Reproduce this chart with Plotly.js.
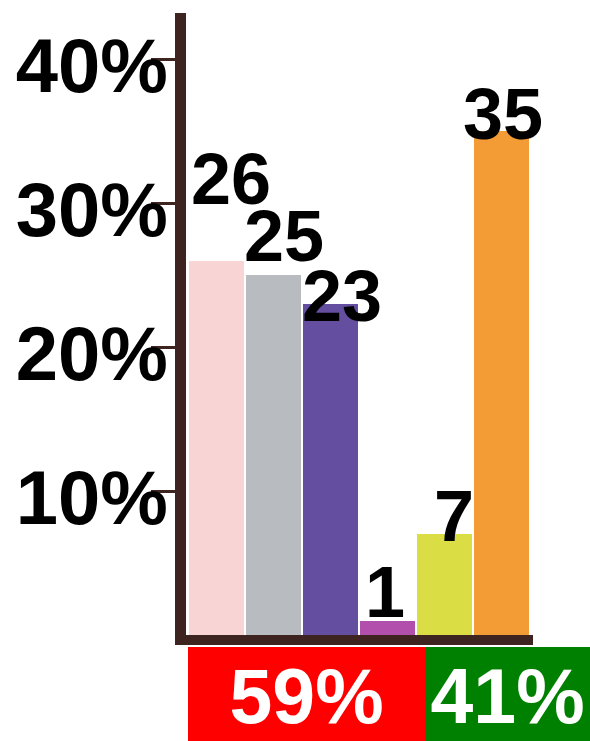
<!DOCTYPE html>
<html>
<head>
<meta charset="utf-8">
<script src="https://cdn.plot.ly/plotly-3.0.1.min.js"></script>
<style>
  html, body { margin: 0; padding: 0; background: #ffffff; }
  #chart { width: 590px; height: 741px; }
</style>
</head>
<body>
<div id="chart"></div>
<script>
// ---- data ----
const categories = ['A', 'B', 'C', 'D', 'E', 'F'];
const values = [26, 25, 23, 1, 7, 35];
const valueLabels = ['26', '25', '23', '1', '7', '35'];
const barColors = ['#f8d4d4', '#b8bbbf', '#634ea0', '#b24fac', '#dade44', '#f39b35'];
const tickValues = [10, 20, 30, 40];
const tickLabels = ['10%', '20%', '30%', '40%'];
const groupNames = ['59%', '41%'];
const groupValues = [59, 41];
const groupColors = ['#ff0000', '#008000'];

// ---- label nudges (style only, px) ----
const labelDx = [15, 11, 12, -2, 10, 2];
const labelDy = [82, 39, 8, 29, 18, 17];

const FONT = 'Liberation Sans, Arial, Helvetica, sans-serif';
const AXIS = '#3d2420';

const traces = [{
  type: 'bar',
  x: categories,
  y: values,
  marker: { color: barColors, line: { width: 0 } },
  hoverinfo: 'none',
  xaxis: 'x', yaxis: 'y'
}];

groupValues.forEach(function (v, i) {
  traces.push({
    type: 'bar',
    orientation: 'h',
    x: [v],
    y: [0],
    width: 1.3,
    text: [groupNames[i]],
    textposition: 'inside',
    insidetextanchor: 'middle',
    constraintext: 'none',
    cliponaxis: false,
    textfont: { family: FONT, size: 77, color: '#ffffff', weight: 700 },
    marker: { color: groupColors[i], line: { width: 0 } },
    hoverinfo: 'none',
    xaxis: 'x2', yaxis: 'y2'
  });
});

const annotations = values.map(function (v, i) {
  return {
    x: categories[i], y: v, xref: 'x', yref: 'y',
    text: valueLabels[i], showarrow: false,
    xanchor: 'center', yanchor: 'middle',
    xshift: labelDx[i], yshift: labelDy[i],
    font: { family: FONT, size: 72, color: '#000000', weight: 700 }
  };
});

const layout = {
  width: 590, height: 741,
  margin: { l: 0, r: 0, t: 0, b: 0, pad: 0 },
  paper_bgcolor: '#ffffff', plot_bgcolor: '#ffffff',
  showlegend: false,
  barmode: 'stack',
  bargap: 0.03,
  xaxis: {
    domain: [186 / 590, 533 / 590],
    range: [-0.535, 5.553],
    showticklabels: false, ticks: '', showgrid: false, zeroline: false,
    showline: true, linecolor: AXIS, linewidth: 10,
    fixedrange: true
  },
  yaxis: {
    domain: [(741 - 635) / 741, (741 - 13) / 741],
    range: [0, 43.2],
    tickvals: tickValues, ticktext: tickLabels,
    ticks: 'outside', ticklen: 24, tickwidth: 3, tickcolor: AXIS,
    ticklabelstandoff: -32,
    ticklabelshift: 6,
    tickfont: { family: FONT, size: 76, color: '#000000', weight: 700 },
    showgrid: false, zeroline: false,
    showline: true, linecolor: AXIS, linewidth: 11,
    fixedrange: true
  },
  xaxis2: {
    domain: [188 / 590, 1],
    range: [0, 100],
    anchor: 'y2',
    visible: false, fixedrange: true
  },
  yaxis2: {
    domain: [0, (741 - 647) / 741],
    range: [-0.48, 0.52],
    anchor: 'x2',
    visible: false, fixedrange: true
  },
  annotations: annotations
};

Plotly.newPlot('chart', traces, layout, { displayModeBar: false, staticPlot: true });
</script>
</body>
</html>
